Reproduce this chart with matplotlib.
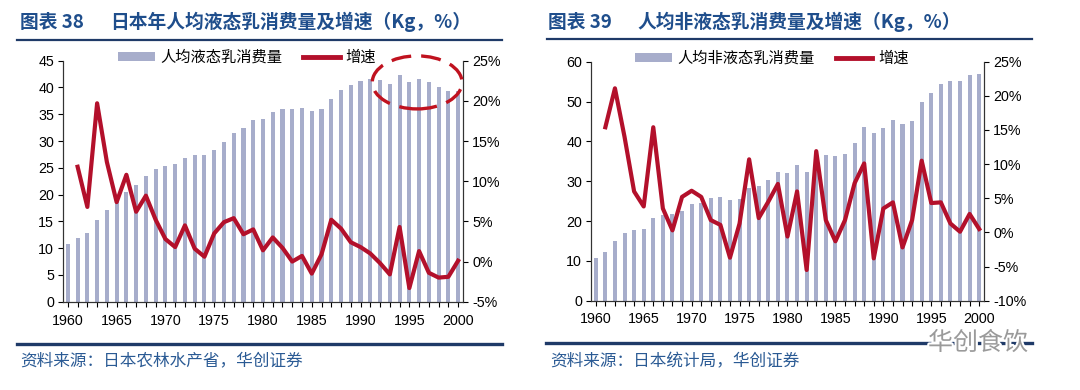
import matplotlib
matplotlib.use("Agg")
import matplotlib.pyplot as plt
from matplotlib.patches import Patch, Ellipse
from matplotlib.lines import Line2D
import matplotlib.patheffects as pe
from matplotlib.ticker import MultipleLocator, FuncFormatter

plt.rcParams['font.family'] = ['Liberation Sans', 'Noto Sans CJK SC', 'DejaVu Sans']

years = list(range(1960, 2001))

# 图表38: 人均液态乳消费量 (Kg) and growth (%)
liquid_kg = [10.8, 11.9, 12.8, 15.2, 17.2, 18.6, 20.5, 21.7, 23.5, 24.7,
             25.4, 25.8, 26.9, 27.4, 27.4, 28.4, 29.9, 31.5, 32.5, 33.9,
             34.2, 35.4, 36.0, 36.0, 36.2, 35.6, 35.9, 37.8, 39.5, 40.4,
             41.2, 41.6, 41.4, 40.6, 42.4, 41.0, 41.6, 41.0, 40.1, 39.4,
             39.4]
liquid_growth = [11.8, 6.8, 19.7, 12.4, 7.4, 10.8, 6.2, 8.2, 5.2, 2.8,
                 1.8, 4.5, 1.6, 0.6, 3.5, 4.9, 5.4, 3.4, 4.0, 1.4,
                 3.0, 1.7, 0.0, 0.7, -1.5, 0.9, 5.2, 4.1, 2.4, 1.8,
                 1.0, -0.2, -1.6, 4.3, -3.3, 1.3, -1.4, -2.0, -1.9, 0.1]

# 图表39: 人均非液态乳消费量 (Kg) and growth (%)
nonliquid_kg = [10.6, 12.3, 15.0, 16.9, 17.7, 18.1, 20.8, 21.6, 21.7, 22.5,
                24.2, 24.4, 25.9, 26.1, 25.2, 25.5, 28.4, 28.9, 30.3, 32.3,
                32.1, 34.1, 32.2, 36.0, 36.7, 36.2, 36.8, 39.6, 43.5, 42.0,
                43.4, 45.4, 44.4, 45.2, 50.0, 52.1, 54.4, 55.1, 55.1, 56.6,
                56.8]
nonliquid_growth = [15.4, 21.1, 14.0, 6.0, 3.8, 15.4, 3.5, 0.3, 5.2, 6.1,
                    5.2, 1.8, 1.1, -3.7, 1.3, 10.7, 2.1, 4.5, 7.1, -0.6,
                    6.0, -5.5, 11.9, 1.8, -1.3, 1.8, 7.2, 10.1, -3.8, 3.5,
                    4.4, -2.2, 1.8, 10.5, 4.3, 4.4, 1.3, 0.1, 2.7, 0.5]

BAR = '#A7ADCB'
RED = '#B3102B'
NAVY = '#1F3A68'
CJK = ['Noto Sans CJK SC', 'DejaVu Sans']
TICK_FS = 10.3


def panel(rect, kg, growth, kg_max, kg_step, pct_lim, bar_label, legend_x):
    ax = fig.add_axes(rect)
    ax.bar(years, kg, width=0.42, color=BAR, zorder=2)
    ax.set_xlim(1959.5, 2000.5)
    ax.set_ylim(0, kg_max)
    ax.yaxis.set_major_locator(MultipleLocator(kg_step))
    ax.xaxis.set_major_locator(MultipleLocator(5))
    ax.xaxis.set_minor_locator(MultipleLocator(1))
    ax.spines['top'].set_visible(False)
    ax.tick_params(axis='both', labelsize=TICK_FS, direction='out', length=3.5, width=0.8, pad=3)
    ax.tick_params(axis='x', which='minor', length=3.5, width=0.8)
    ax.tick_params(axis='x', pad=5)

    ax2 = ax.twinx()
    ax2.plot(years[1:], growth, color=RED, lw=3.0, solid_joinstyle='round', zorder=3)
    ax2.set_ylim(*pct_lim)
    ax2.yaxis.set_major_locator(MultipleLocator(5))
    ax2.yaxis.set_major_formatter(FuncFormatter(lambda v, p: f"{v:.0f}%"))
    ax2.spines['top'].set_visible(False)
    ax2.tick_params(axis='y', labelsize=TICK_FS, direction='out', length=3.5, width=0.8, pad=3)
    for a in (ax, ax2):
        for s in a.spines.values():
            s.set_color('#333333')
            s.set_linewidth(0.8)

    handles = [Patch(facecolor=BAR, edgecolor='none'),
               Line2D([0], [0], color=RED, lw=3.5)]
    ax.legend(handles, [bar_label, '增速'], loc='center', bbox_to_anchor=(legend_x, 1.015),
              ncol=2, frameon=False, prop={'family': CJK, 'size': 11},
              handlelength=2.4, handleheight=0.55, handletextpad=0.35,
              columnspacing=1.4, borderaxespad=0)
    return ax, ax2


fig = plt.figure(figsize=(10.8, 3.9), dpi=100)
fig.patch.set_facecolor('white')

ax_l, ax_l2 = panel([0.0583, 0.2264, 0.3704, 0.6179], liquid_kg, liquid_growth,
                    45, 5, (-5, 25), '人均液态乳消费量', 0.46)
ax_r, ax_r2 = panel([0.5472, 0.2290, 0.3639, 0.6128], nonliquid_kg, nonliquid_growth,
                    60, 10, (-10, 25), '人均非液态乳消费量', 0.46)

# dashed highlight ellipse on the left chart
ell = Ellipse((1995.8, 22.3), 9.2, 6.6, fill=False, edgecolor='#C0121F', lw=2.4,
              linestyle=(0, (6, 3)), clip_on=False, zorder=5)
ax_l2.add_patch(ell)

# titles and rules
for x0, num, txt in [(20, '图表 38', '日本年人均液态乳消费量及增速（Kg，%）'),
                     (548, '图表 39', '人均非液态乳消费量及增速（Kg，%）')]:
    fig.text(x0 / 1080, 1 - 22 / 390, num, family=CJK, size=13.5, weight='bold',
             color='#1F4E8C', va='center', ha='left')
for x0, txt in [(110, '日本年人均液态乳消费量及增速（Kg，%）'),
                (637, '人均非液态乳消费量及增速（Kg，%）')]:
    fig.text(x0 / 1080, 1 - 22 / 390, txt, family=CJK, size=13.5, weight='bold',
             color='#1F4E8C', va='center', ha='left')

for x0, x1, y in [(17, 502, 40), (547, 1032, 39)]:
    fig.add_artist(Line2D([x0 / 1080, x1 / 1080], [1 - y / 390] * 2, color=NAVY, lw=1.6))
for x0, x1, y in [(17, 502, 344), (546, 1032, 343)]:
    fig.add_artist(Line2D([x0 / 1080, x1 / 1080], [1 - y / 390] * 2, color=NAVY, lw=2.4))

fig.text(20 / 1080, 1 - 361 / 390, '资料来源：日本农林水产省，华创证券', family=CJK,
         size=12, color='#2A5A94', va='center', ha='left', style='italic')
fig.text(550 / 1080, 1 - 362 / 390, '资料来源：日本统计局，华创证券', family=CJK,
         size=12, color='#2A5A94', va='center', ha='left', style='italic')

# watermark
fig.text(928 / 1080, 1 - 343 / 390, '华创食饮', family=CJK, size=18, color='#9A9A9A',
         va='center', ha='left',
         path_effects=[pe.withStroke(linewidth=3, foreground='white')])

fig.savefig('out.png', dpi=100)
